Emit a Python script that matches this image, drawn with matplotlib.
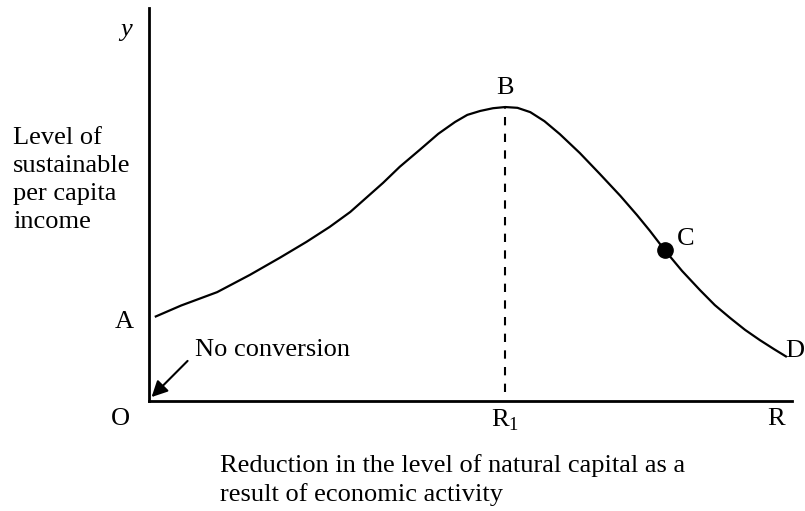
import matplotlib.pyplot as plt

plt.rcParams['font.family'] = ['Liberation Serif', 'DejaVu Serif']
plt.rcParams['mathtext.fontset'] = 'custom'
plt.rcParams['mathtext.rm'] = 'Liberation Serif'

# curve (x: reduction in natural capital, y: income)
x = [0.9, 5.0, 10.6, 15.7, 20.4, 24.5, 28.1, 31.3, 36.4, 39.0, 42.1, 45.0,
     47.6, 49.5, 51.5, 53.5, 55.4, 57.3, 59.3, 61.5, 63.9, 67.0, 70.1, 73.3,
     75.9, 77.9, 80.2, 82.9, 85.7, 88.0, 90.4, 92.7, 95.0, 97.2, 99.2]
y = [21.4, 24.3, 27.7, 32.1, 36.5, 40.5, 44.3, 48.1, 55.5, 59.6, 63.9, 68.0,
     71.0, 72.8, 73.8, 74.5, 74.8, 74.6, 73.5, 71.2, 67.9, 63.1, 57.8, 52.2,
     47.3, 43.3, 38.4, 33.1, 28.2, 24.4, 21.1, 18.1, 15.5, 13.2, 11.2]
peak_x, peak_y = 55.4, 74.8
c_x, c_y = 80.2, 38.4

fig = plt.figure(figsize=(8.05, 5.11), dpi=100)
ax = fig.add_axes([149 / 805, 110 / 511, 643 / 805, 393 / 511])
ax.set_xlim(0, 100)
ax.set_ylim(0, 100)
for s in ['top', 'right']:
    ax.spines[s].set_visible(False)
ax.spines['left'].set_linewidth(2)
ax.spines['bottom'].set_linewidth(2)
ax.set_xticks([])
ax.set_yticks([])

ax.plot(x, y, color='black', lw=1.6, solid_capstyle='butt')
ax.plot([peak_x, peak_x], [2.3, peak_y], color='black', lw=1.5, ls=(0, (4, 4)))
ax.plot(c_x, c_y, 'o', color='black', ms=11)

fs = 19
ax.text(peak_x, peak_y + 2.0, 'B', ha='center', va='bottom', fontsize=fs)
ax.text(c_x + 1.9, c_y + 2.8, 'C', ha='left', va='center', fontsize=fs)
ax.text(x[-1] - 0.2, y[-1] + 1.6, 'D', ha='left', va='center', fontsize=fs, clip_on=False)

ax.annotate('', xy=(0.4, 1.0), xytext=(6.0, 10.2),
            arrowprops=dict(arrowstyle='-|>', color='black', lw=1.5,
                            mutation_scale=24, shrinkA=0, shrinkB=0))

fig.text(195 / 805, 1 - 350 / 511, 'No conversion', ha='left', va='center', fontsize=fs)
fig.text(126 / 805, 1 - 30 / 511, 'y', ha='center', va='center', fontsize=fs, style='italic')
fig.text(13 / 805, 1 - 180 / 511, 'Level of\nsustainable\nper capita\nincome',
         ha='left', va='center', fontsize=fs, linespacing=1.36)
fig.text(124 / 805, 1 - 322 / 511, 'A', ha='center', va='center', fontsize=fs)
fig.text(120 / 805, 1 - 419 / 511, 'O', ha='center', va='center', fontsize=fs)
fig.text(505 / 805, 1 - 420 / 511, r'R$_1$', ha='center', va='center', fontsize=fs)
fig.text(776 / 805, 1 - 419 / 511, 'R', ha='center', va='center', fontsize=fs)
fig.text(220 / 805, 1 - 480 / 511,
         'Reduction in the level of natural capital as a\nresult of economic activity',
         ha='left', va='center', fontsize=fs, linespacing=1.33)

fig.savefig('out.png', dpi=100, facecolor='white')
